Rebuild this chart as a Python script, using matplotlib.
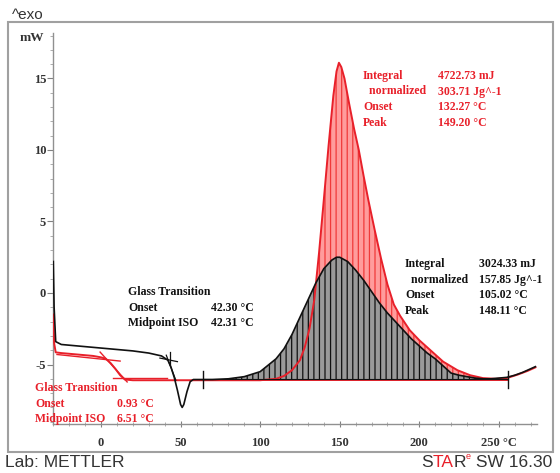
import numpy as np
import matplotlib.pyplot as plt
from matplotlib.patches import Rectangle
from matplotlib.ticker import MultipleLocator

plt.rcParams['hatch.linewidth'] = 0.9

# black sample (glass transition ~42 C, peak ~148 C)
black_t = [-30, -29.5, -28.5, -25, -15, 0, 10, 20, 30, 38, 42, 44, 46, 48, 50, 51, 52, 54, 56, 58,
           62, 70, 80, 90, 100, 110, 115, 120, 125, 130, 135, 140, 145, 148, 150, 155, 160, 165,
           170, 175, 180, 185, 190, 195, 200, 205, 210, 215, 220, 225, 230, 235, 240, 245, 250,
           255, 260, 265, 270, 273]
black_mw = [2.2, -1.0, -3.4, -3.6, -3.7, -3.85, -3.95, -4.05, -4.2, -4.4, -4.7, -5.2, -5.9, -6.8,
            -7.8, -8.0, -7.8, -6.9, -6.2, -6.05, -6.05, -6.05, -6.0, -5.85, -5.5, -4.6, -3.9, -2.9,
            -1.7, -0.5, 0.7, 1.7, 2.3, 2.5, 2.5, 2.2, 1.6, 0.9, 0.1, -0.7, -1.4, -2.0, -2.6, -3.2,
            -3.7, -4.2, -4.6, -5.1, -5.6, -5.75, -5.85, -5.95, -6.0, -6.0, -5.95, -5.9, -5.75,
            -5.55, -5.3, -5.15]

# red sample (glass transition ~1 C, peak ~149 C)
red_t = [-30, -29.5, -28.5, -25, -15, -5, 0, 3, 6, 9, 12, 15, 20, 40, 60, 80, 100, 105, 110, 115,
         120, 125, 128, 131, 134, 137, 140, 143, 146, 148, 149.5, 151, 153, 156, 159, 162, 165,
         168, 172, 176, 180, 184, 188, 194, 200, 209, 215, 224, 232, 240, 248, 255, 262, 268, 273]
red_mw = [-1.5, -3.5, -4.15, -4.2, -4.3, -4.4, -4.5, -4.6, -4.9, -5.3, -5.75, -6.05, -6.1, -6.1,
          -6.1, -6.1, -6.1, -6.05, -6.0, -5.8, -5.4, -4.7, -3.8, -2.5, -0.5, 2.8, 6.5, 10.3, 13.8,
          15.5, 16.1, 15.8, 15.0, 13.2, 11.5, 10.0, 8.2, 6.5, 4.4, 2.4, 0.6, -0.8, -1.6, -2.6,
          -3.3, -4.2, -4.8, -5.4, -5.75, -5.95, -6.0, -5.95, -5.7, -5.45, -5.2]

peak_limits = [64, 256]
baseline = -6.05

black_glass_lines = [([37, 48], [-4.55, -4.8]), ([41, 47], [-4.35, -6.1]), ([43.5, 43.5], [-4.1, -5.0])]
red_glass_lines = [([-27.7, 12], [-4.3, -4.76]), ([-0.6, 16.4], [-4.13, -6.22]), ([7.5, 41.5], [-5.94, -5.94])]

red = '#e8202a'
serif = 'Liberation Serif'

W, H = 560, 473
fig = plt.figure(figsize=(W / 100, H / 100), dpi=100)


def px(x, y):
    return x / W, 1 - y / H


fig.patches.append(Rectangle(px(8, 452), (553 - 8) / W, (452 - 22) / H, transform=fig.transFigure,
                             fill=False, edgecolor='#a0a0a0', lw=1.5))

ax = fig.add_axes([53 / W, (H - 424) / H, (537 - 53) / W, (424 - 33) / H])
ax.set_xlim(-30.2, 274)
ax.set_ylim(-9.16, 18.18)

bt = np.array(black_t)
bm = np.array(black_mw)
rt = np.array(red_t)
rm = np.array(red_mw)

rmask = (rt >= peak_limits[0]) & (rt <= peak_limits[1])
bmask = (bt >= peak_limits[0]) & (bt <= peak_limits[1])
ax.fill_between(rt[rmask], rm[rmask], baseline, facecolor='#ff9c9c', edgecolor='#f03a3a',
                hatch='|||', lw=0, zorder=1)
ax.fill_between(bt[bmask], bm[bmask], baseline, facecolor='#9a9a9a', edgecolor='#111111',
                hatch='|||', lw=0, zorder=2)

ax.plot(rt, rm, color=red, lw=1.4, zorder=3)
ax.plot(peak_limits, [baseline, baseline], color=red, lw=1.4, zorder=3)
ax.plot(bt, bm, color='#111111', lw=1.2, zorder=4)
ax.plot(peak_limits, [baseline + 0.02, baseline + 0.02], color='#111111', lw=0.8, zorder=4)

for xs, ys in black_glass_lines:
    ax.plot(xs, ys, color='#111111', lw=0.9, zorder=4)
for xs, ys in red_glass_lines:
    ax.plot(xs, ys, color=red, lw=1.0, zorder=3)
for t0 in peak_limits:
    ax.plot([t0, t0], [baseline - 0.6, baseline + 0.6], color='#111111', lw=1.0, zorder=5)

for s in ['top', 'right']:
    ax.spines[s].set_visible(False)
for s in ['left', 'bottom']:
    ax.spines[s].set_color('#909090')
    ax.spines[s].set_linewidth(1.0)

ax.set_yticks([15, 10, 5, 0, -5])
ax.set_yticklabels(['15', '10', '5', '0', '-5'])
ax.yaxis.set_minor_locator(MultipleLocator(1))
ax.set_xticks([0, 50, 100, 150, 200, 250])
ax.set_xticklabels(['0', '50', '100', '150', '200', '250 \u00b0C'])
ax.xaxis.set_minor_locator(MultipleLocator(10))
ax.tick_params(axis='y', which='major', direction='out', length=4, color='#808080', pad=1)
ax.tick_params(axis='y', which='minor', direction='out', length=2, color='#a0a0a0')
ax.tick_params(axis='x', which='major', direction='inout', length=5, color='#808080', pad=7)
ax.tick_params(axis='x', which='minor', direction='inout', length=3, color='#a0a0a0')
for lab in ax.get_xticklabels() + ax.get_yticklabels():
    lab.set_fontfamily(serif)
    lab.set_fontweight('bold')
    lab.set_fontsize(9)
    lab.set_color('#333333')

fig.text(*px(32, 38), 'mW', family=serif, weight='bold', size=9.5, color='#333333',
         ha='center', va='center')
fig.text(*px(12, 15), '^exo', family='Liberation Sans', size=11, color='#333333', va='center')
fig.text(*px(5, 462), 'Lab: METTLER', family='Liberation Sans', size=12.5, color='#333333',
         va='center')

# STARe SW 16.30
prev = fig.text(*px(421, 462), 'S', family='Liberation Sans', size=12.5, color='#333333',
                va='center')
for s, c in [('TA', red), ('R', '#333333')]:
    prev = ax.annotate(s, xy=(1, 0), xycoords=prev, va='bottom', family='Liberation Sans',
                       size=12.5, color=c, annotation_clip=False)
prev = ax.annotate('e', xy=(1, 0.55), xycoords=prev, va='bottom', family='Liberation Sans',
                   size=6.5, color=red, annotation_clip=False)
ax.annotate(' SW 16.30', xy=(1, 0), xycoords=prev, xytext=(0, -6), textcoords='offset points',
            va='bottom', family='Liberation Sans', size=12.5, color='#333333',
            annotation_clip=False)


def block(x1, x2, y0, rows, color):
    for i, (a, b) in enumerate(rows):
        y = y0 + i * 15.5
        if a:
            fig.text(*px(x1, y), a, family=serif, weight='bold', size=8.5, color=color, va='center')
        if b:
            fig.text(*px(x2, y), b, family=serif, weight='bold', size=8.5, color=color, va='center')


block(128, 211, 292, [('Glass Transition', ''), ('Onset', '42.30 \u00b0C'),
                      ('Midpoint ISO', '42.31 \u00b0C')], '#111111')
block(35, 117, 388, [('Glass Transition', ''), ('Onset', '0.93 \u00b0C'),
                     ('Midpoint ISO', '6.51 \u00b0C')], red)
block(363, 438, 76, [('Integral', '4722.73 mJ'), ('  normalized', '303.71 Jg^-1'),
                     ('Onset', '132.27 \u00b0C'), ('Peak', '149.20 \u00b0C')], red)
block(405, 479, 264, [('Integral', '3024.33 mJ'), ('  normalized', '157.85 Jg^-1'),
                      ('Onset', '105.02 \u00b0C'), ('Peak', '148.11 \u00b0C')], '#111111')

fig.savefig('out.png', dpi=100)
